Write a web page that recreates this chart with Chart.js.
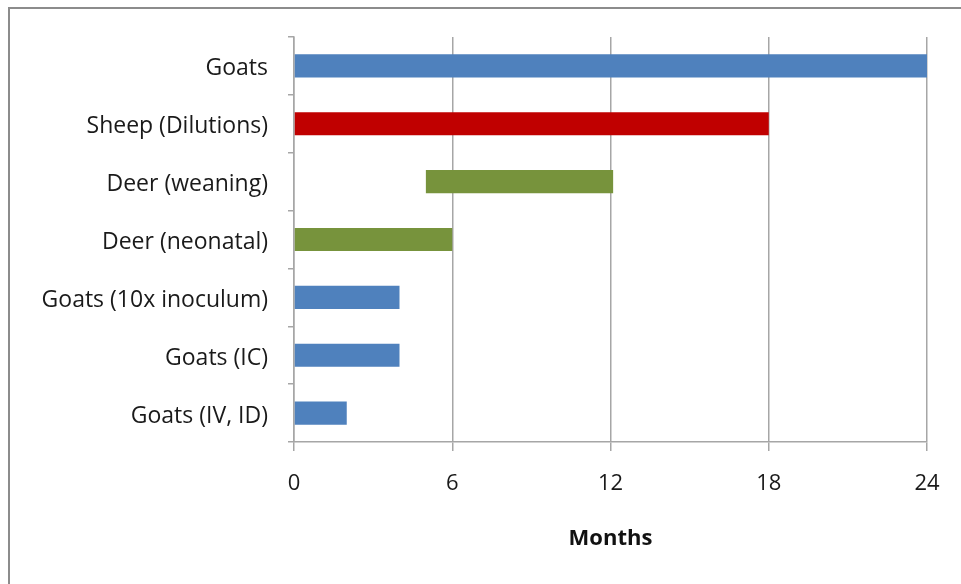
<!DOCTYPE html>
<html>
<head>
<meta charset="utf-8">
<script src="https://cdn.jsdelivr.net/npm/chart.js@4"></script>
<style>
  html, body { margin: 0; padding: 0; background: #fff; }
  #wrap { position: relative; width: 961px; height: 584px; }
  #frame { position: absolute; left: 8px; top: 7px; right: -4px; bottom: -4px;
           border-left: 2px solid #8c8c8c; border-top: 2px solid #8c8c8c; pointer-events: none; }
</style>
</head>
<body>
<div id="wrap">
  <canvas id="myChart" width="961" height="584"></canvas>
  <div id="frame"></div>
</div>
<script>
const categorias = ["Goats", "Sheep (Dilutions)", "Deer (weaning)", "Deer (neonatal)",
  "Goats (10x inoculum)", "Goats (IC)", "Goats (IV, ID)"];
const mesInicio = [0, 0, 5, 0, 0, 0, 0];
const mesFin = [24, 18, 12.1, 6, 4, 4, 2];
const colores = ["#4f81bd", "#c00000", "#77933c", "#77933c", "#4f81bd", "#4f81bd", "#4f81bd"];
const ticksX = [0, 6, 12, 18, 24];

const fuente = "'Open Sans', sans-serif";
const gris = "#a6a6a6";

const datos = categorias.map((c, i) => [mesInicio[i], mesFin[i]]);

const myChart = document.getElementById("myChart");
new Chart(myChart, {
  type: "bar",
  data: {
    labels: categorias,
    datasets: [{
      data: datos,
      backgroundColor: colores,
      borderWidth: 0,
      barPercentage: 0.4,
      categoryPercentage: 1,
    }],
  },
  options: {
    indexAxis: "y",
    responsive: false,
    animation: false,
    layout: { padding: { left: 0, top: 37, right: 34, bottom: 0 } },
    plugins: { legend: { display: false }, tooltip: { enabled: false } },
    scales: {
      x: {
        min: 0,
        max: 24,
        afterBuildTicks: (escala) => { escala.ticks = ticksX.map((v) => ({ value: v })); },
        afterFit: (escala) => { escala.height = 142; },
        grid: { color: gris, lineWidth: 1.5, tickLength: 9 },
        border: { color: gris, width: 1.5 },
        ticks: { color: "#1a1a1a", font: { family: fuente, size: 22 }, padding: 20 },
        title: {
          display: true,
          text: "Months",
          color: "#111",
          font: { family: fuente, size: 22, weight: "bold" },
          padding: { top: 0, bottom: 32 },
        },
      },
      y: {
        afterFit: (escala) => { escala.width = 294; },
        grid: { drawOnChartArea: false, color: gris, lineWidth: 1.5, tickLength: 6, offset: true },
        border: { color: gris, width: 1.5 },
        ticks: { color: "#1a1a1a", font: { family: fuente, size: 23 }, padding: 20, labelOffset: 3 },
      },
    },
  },
});
</script>
</body>
</html>
